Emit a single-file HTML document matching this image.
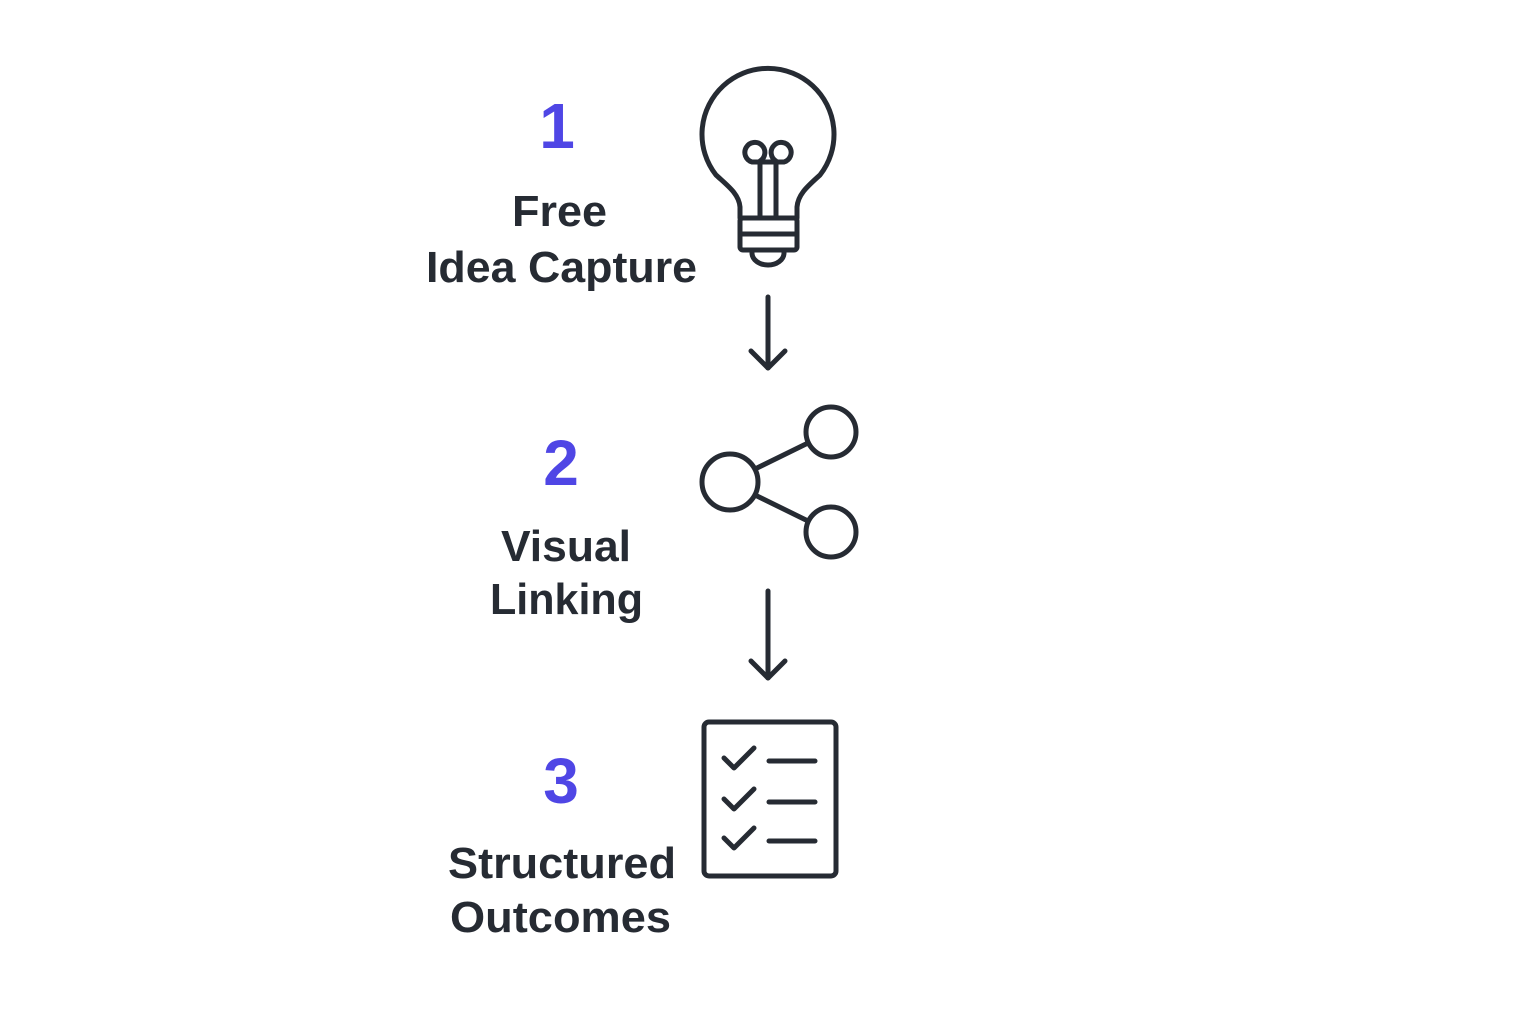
<!DOCTYPE html>
<html><head><meta charset="utf-8"><style>
html,body{margin:0;padding:0;background:#fff;}
svg{display:block;}
text{font-family:"Liberation Sans",sans-serif;font-weight:bold;}
</style></head><body>
<svg width="1536" height="1024" viewBox="0 0 1536 1024" xmlns="http://www.w3.org/2000/svg">
<rect width="1536" height="1024" fill="#fff"/>
<g fill="#4f46e5" text-anchor="middle" font-size="64">
<text x="557" y="148">1</text>
<text x="561" y="485">2</text>
<text x="561" y="803">3</text>
</g>
<g fill="#262b33" font-size="44">
<text x="512" y="226" textLength="95" lengthAdjust="spacingAndGlyphs">Free</text>
<text x="426" y="282" textLength="271" lengthAdjust="spacingAndGlyphs">Idea Capture</text>
<text x="501" y="561" textLength="130" lengthAdjust="spacingAndGlyphs">Visual</text>
<text x="490" y="614" textLength="153" lengthAdjust="spacingAndGlyphs">Linking</text>
<text x="448" y="878" textLength="228" lengthAdjust="spacingAndGlyphs">Structured</text>
<text x="450" y="932" textLength="221" lengthAdjust="spacingAndGlyphs">Outcomes</text>
</g>
<g fill="none" stroke="#262b33" stroke-width="5" stroke-linecap="round" stroke-linejoin="round">
<!-- bulb -->
<path d="M740 218 L740 207 C739 194 728 186 716 175 A66 66 0 1 1 820 175 C808 186 798 194 797 207 L797 218"/>
<rect x="740" y="218" width="57" height="32" rx="3"/>
<line x1="740" y1="234" x2="797" y2="234"/>
<path d="M752 250 L752 253 A16 12 0 0 0 784 253 L784 250"/>
<path d="M760 218 L760 161 A10 10 0 1 0 752 162 L784 162 A10 10 0 1 0 776 161 L776 218"/>
<!-- arrows -->
<line x1="768" y1="297" x2="768" y2="368"/>
<polyline points="751,351 768,368 785,351"/>
<line x1="768" y1="591" x2="768" y2="678"/>
<polyline points="751,661 768,678 785,661"/>
<!-- share -->
<circle cx="730" cy="482" r="28"/>
<circle cx="831" cy="432" r="25"/>
<circle cx="831" cy="532" r="25"/>
<line x1="755" y1="469" x2="808" y2="443"/>
<line x1="755" y1="495" x2="808" y2="521"/>
<!-- checklist -->
<rect x="704" y="722" width="132" height="154" rx="5"/>
<polyline points="724,758 734,768 754,748"/>
<polyline points="724,799 734,809 754,789"/>
<polyline points="724,838 734,848 754,828"/>
<line x1="769" y1="761" x2="815" y2="761"/>
<line x1="769" y1="802" x2="815" y2="802"/>
<line x1="769" y1="841" x2="815" y2="841"/>
</g>
</svg>
</body></html>
